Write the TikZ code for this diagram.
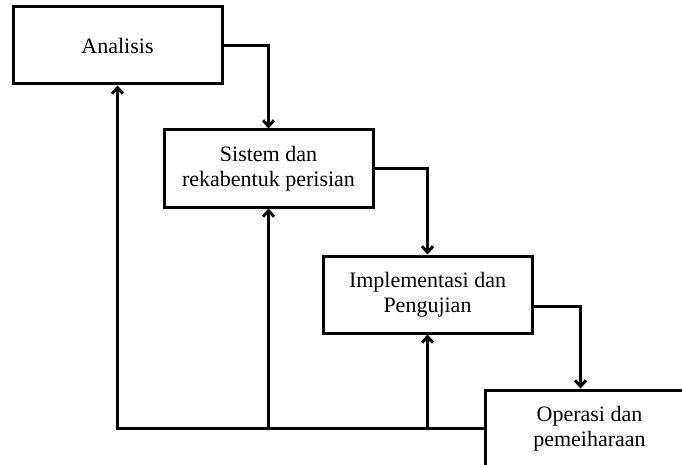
\documentclass[tikz,border=0pt]{standalone}
\usepackage{fontspec}
\setmainfont{Liberation Serif}
\usepackage{tikz}
\usetikzlibrary{positioning,arrows.meta,shadows}

\begin{document}
\begin{tikzpicture}[x=1pt,y=-1pt,
                    blocknode/.style={rectangle, draw=black, line width=3pt, fill=white, minimum width=209pt, minimum height=77pt,
                                      align=center, font=\fontsize{22}{25}\selectfont,
                                      drop shadow={shadow xshift=1.5pt, shadow yshift=-1.5pt, opacity=0.25}},
                    flowline/.style={line width=3pt, -{Straight Barb[length=6pt,width=11pt]}},]
    \path[use as bounding box] (0,0) rectangle (682,465);
    \clip (0,0) rectangle (682,465);
    \node[blocknode] (1) at (117.5,45.5) {Analisis};
    \node[blocknode] (2) at (268.5,168.5) {Sistem dan\\rekabentuk perisian};
    \node[blocknode] (3) at (427.5,294.5) {Implementasi dan\\Pengujian};
    \node[blocknode] (4) at (589.5,428.5) {Operasi dan\\pemeiharaan};
    \draw[flowline] (1.east) -| (2.north);
    \draw[flowline] (2.east) -| (3.north);
    \draw[flowline] ([yshift=-12pt]3.east) -| ([xshift=-9pt]4.north);
    \draw[flowline] (4.west) -| (1.south);
    \draw[flowline] (2.south |- 4.west) -- (2.south);
    \draw[flowline] (3.south |- 4.west) -- (3.south);
\end{tikzpicture}
\end{document}
